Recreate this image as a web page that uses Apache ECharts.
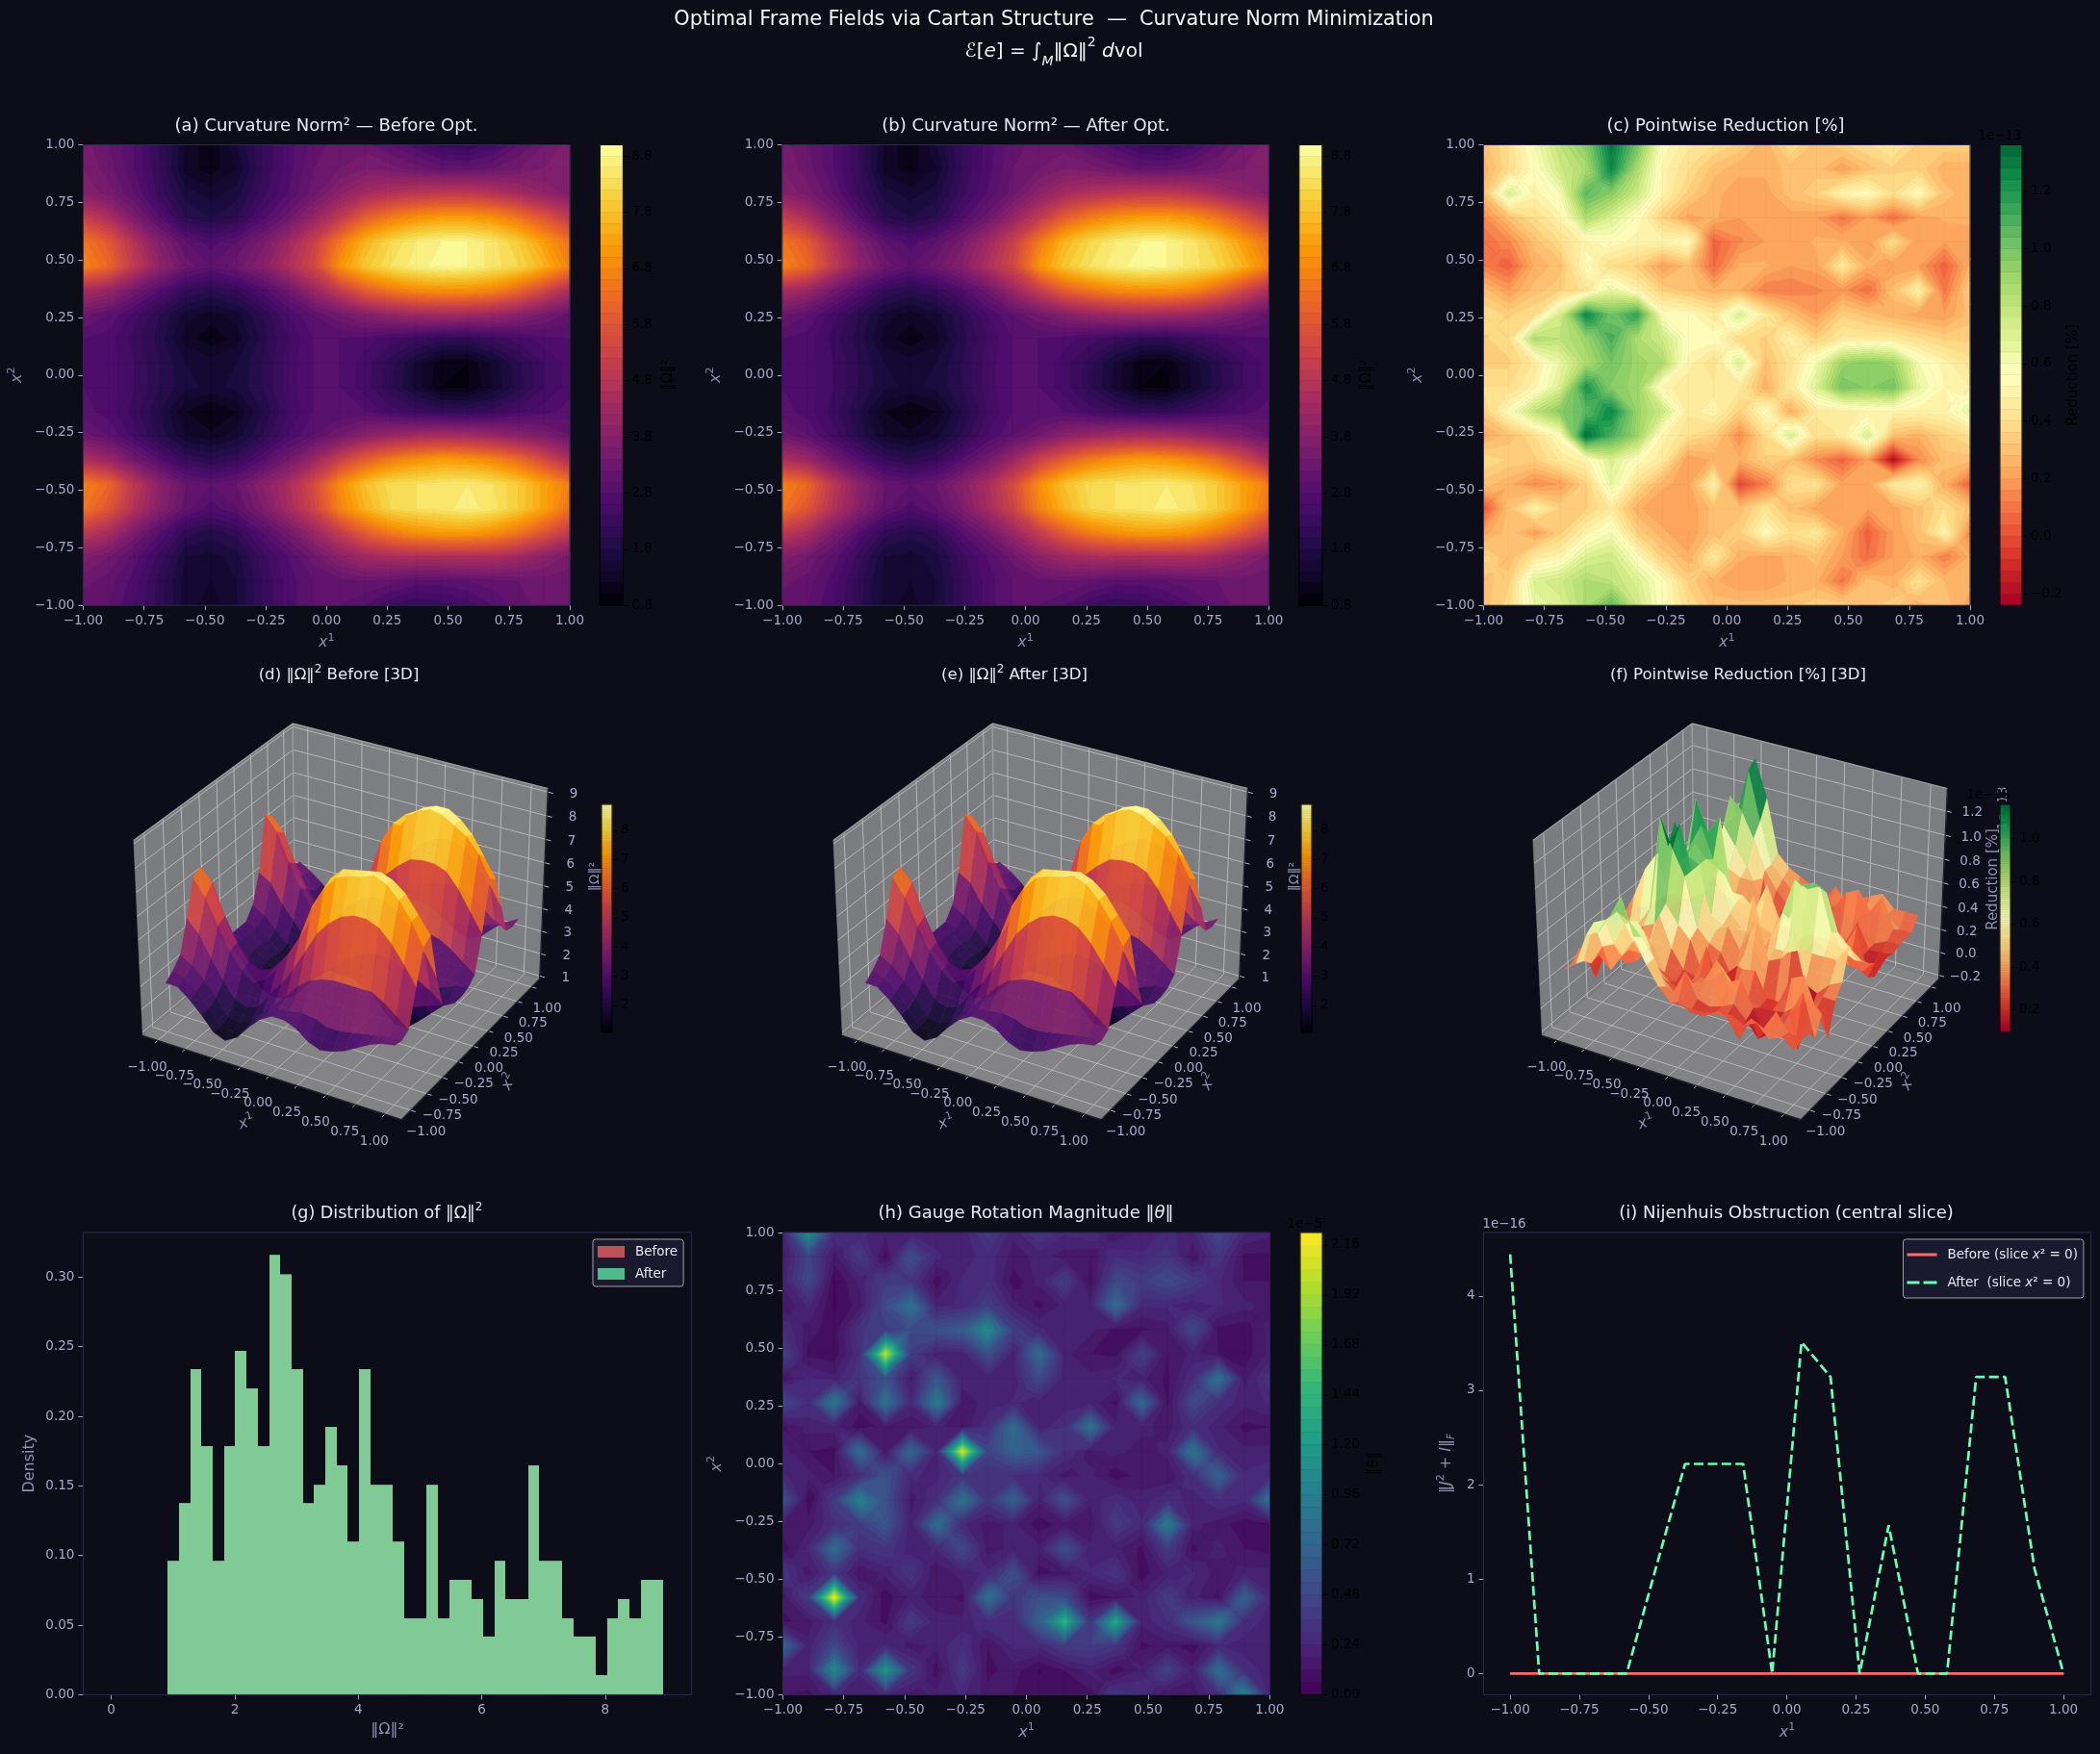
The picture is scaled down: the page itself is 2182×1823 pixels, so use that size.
<!DOCTYPE html>
<html>
<head>
<meta charset="utf-8">
<title>Optimal Frame Fields via Cartan Structure</title>
<script src="https://cdn.jsdelivr.net/npm/echarts@6/dist/echarts.min.js"></script>
<style>html,body{margin:0;padding:0;background:#0d0d1a}#chart{width:2182px;height:1823px}</style>
</head>
<body>
<div id="chart"></div>
<script>
// Sample coordinates shared by every field
const gridX = [-1,-0.895,-0.789,-0.684,-0.579,-0.474,-0.368,-0.263,-0.158,-0.053,0.053,0.158,0.263,0.368,0.474,0.579,0.684,0.789,0.895,1];
const gridY = [1,0.895,0.789,0.684,0.579,0.474,0.368,0.263,0.158,0.053,-0.053,-0.158,-0.263,-0.368,-0.474,-0.579,-0.684,-0.789,-0.895,-1];

// Curvature norm squared, rows run from x2 = 1 down to x2 = -1
const omegaBefore = [
[3.5,3.2,2.8,2.2,1.4,1.0,1.6,2.2,2.7,3.1,3.3,3.3,3.0,2.7,2.3,2.2,2.5,3.0,3.4,3.7],
[3.6,3.3,2.8,2.2,1.3,1.1,1.4,2.2,2.7,3.2,3.4,3.6,3.5,3.3,3.1,3.1,3.2,3.4,3.6,3.6],
[3.8,3.5,3.0,2.3,1.7,1.5,1.7,2.3,2.8,3.3,3.9,4.4,4.7,4.9,5.0,5.0,4.8,4.4,4.0,3.7],
[5.2,4.6,3.6,2.8,2.0,1.8,2.0,2.7,3.3,4.1,5.0,6.0,6.6,7.0,7.2,7.2,7.0,6.5,5.8,5.0],
[6.5,5.9,4.7,3.7,3.0,2.7,3.0,3.5,4.3,5.2,6.5,7.6,8.2,8.6,8.8,8.8,8.5,8.0,7.2,6.4],
[6.8,6.2,5.0,4.0,3.3,3.0,3.3,3.8,4.6,5.4,7.0,7.9,8.4,8.7,8.9,8.8,8.5,8.2,7.6,6.7],
[4.5,4.2,3.4,2.8,2.2,2.0,2.2,2.7,3.3,4.2,5.1,6.0,6.5,6.9,7.0,7.0,6.8,6.2,5.4,4.6],
[3.3,3.0,2.5,2.0,1.5,1.3,1.5,2.0,2.6,3.0,3.4,3.8,4.1,4.3,4.4,4.3,4.2,3.9,3.5,3.1],
[2.8,2.7,2.3,1.9,1.3,1.05,1.3,1.9,2.4,2.8,2.8,2.7,2.5,2.3,2.1,2.1,2.3,2.5,2.7,2.8],
[2.8,2.7,2.4,2.0,1.6,1.5,1.6,2.0,2.5,2.8,2.8,2.5,2.1,1.55,1.05,1.0,1.45,1.95,2.4,2.7],
[2.8,2.7,2.4,2.0,1.65,1.55,1.65,2.0,2.5,2.8,2.8,2.5,2.05,1.5,1.0,0.95,1.4,1.9,2.4,2.7],
[2.9,2.7,2.3,1.8,1.2,0.95,1.2,1.8,2.4,2.8,2.8,2.8,2.5,2.3,2.15,2.1,2.3,2.5,2.7,2.9],
[3.3,3.0,2.5,1.9,1.4,1.25,1.5,2.0,2.6,3.0,3.4,3.9,4.2,4.4,4.5,4.4,4.2,3.9,3.6,3.2],
[4.6,4.2,3.4,2.8,2.2,2.0,2.2,2.8,3.4,4.2,5.2,6.0,6.6,7.0,7.2,7.1,6.8,6.3,5.5,4.6],
[6.7,6.2,4.9,3.9,3.2,3.0,3.2,3.8,4.5,5.5,6.9,7.8,8.3,8.4,8.5,8.6,8.4,8.0,7.3,6.6],
[6.5,5.8,4.7,3.8,3.1,2.7,3.0,3.6,4.4,5.3,6.7,7.6,8.2,8.4,8.5,8.7,8.5,8.0,7.3,6.4],
[5.0,4.5,3.6,2.8,2.1,1.9,2.1,2.8,3.4,4.2,5.1,6.0,6.6,7.0,7.2,7.2,7.0,6.5,5.8,5.0],
[3.7,3.4,2.9,2.3,1.6,1.5,1.7,2.3,2.8,3.3,3.9,4.3,4.5,4.6,4.6,4.6,4.6,4.3,3.9,3.5],
[3.3,3.1,2.7,2.1,1.5,1.4,1.6,2.2,2.7,3.0,3.1,3.2,3.1,2.9,2.9,3.0,3.1,3.2,3.3,3.3],
[3.0,3.0,2.6,2.1,1.5,1.3,1.6,2.2,2.7,3.0,3.0,2.8,2.4,2.2,2.3,2.5,2.8,3.1,3.3,3.4]
];
// The optimiser changes the norm only at the order of 1e-13, invisible at this scale
const omegaAfter = omegaBefore;

// Pointwise reduction, in units of 1e-13 percent
const reduction = [
[0.3,0.4,0.6,0.8,0.95,1.3,1.0,0.55,0.45,0.4,0.35,0.25,0.4,0.3,0.35,0.4,0.45,0.35,0.35,0.35],
[0.25,0.4,0.55,0.75,0.85,1.25,0.85,0.5,0.4,0.3,0.25,0.25,0.3,0.3,0.2,0.3,0.35,0.35,0.25,0.25],
[0.3,0.7,0.5,0.6,1.05,0.95,0.75,0.5,0.35,0.25,0.22,0.22,0.3,0.35,0.5,0.55,0.4,0.55,0.3,0.25],
[0.15,0.3,0.4,0.5,0.85,0.7,0.55,0.35,0.22,0.25,0.2,0.2,0.22,0.2,0.1,0.2,0.08,0.2,0.25,0.25],
[0.08,0.15,0.3,0.4,0.5,0.55,0.5,0.5,0.55,0.05,0.15,0.2,0.2,0.25,0.25,0.2,0.4,0.2,0.2,0.22],
[0.12,0.05,0.25,0.3,0.55,0.4,0.35,0.2,0.3,0.07,0.25,0.25,0.2,0.22,0.45,0.25,0.2,0.2,0.05,0.25],
[0.3,0.2,0.3,0.35,0.42,0.65,0.5,0.35,0.3,0.25,0.25,0.12,0.12,0.15,0.18,0.08,0.3,0.5,0.1,0.35],
[0.4,0.35,0.4,0.72,1.25,1.0,1.15,0.55,0.55,0.45,0.7,0.45,0.3,0.2,0.35,0.3,0.25,0.22,0.2,0.3],
[0.35,0.4,0.85,0.8,0.9,1.1,0.85,0.75,0.55,0.55,0.4,0.35,0.5,0.35,0.45,0.45,0.45,0.4,0.35,0.35],
[0.35,0.35,0.45,0.65,0.85,1.0,0.9,0.85,0.5,0.4,0.7,0.3,0.42,0.6,0.9,0.95,0.9,0.6,0.5,0.42],
[0.4,0.4,0.5,0.7,1.2,0.95,0.9,0.5,0.45,0.45,0.45,0.25,0.45,0.7,1.0,0.95,1.0,0.65,0.52,0.48],
[0.35,0.55,0.8,0.95,1.05,1.25,0.9,0.75,0.45,0.52,0.35,0.55,0.25,0.45,0.45,0.5,0.5,0.5,0.5,0.65],
[0.22,0.3,0.4,0.55,1.33,1.1,0.9,0.5,0.4,0.35,0.15,0.4,0.7,0.4,0.45,0.7,0.3,0.25,0.35,0.4],
[0.4,0.35,0.35,0.45,0.5,0.7,0.55,0.45,0.2,0.25,0.25,0.35,0.3,0.15,0.05,0.2,-0.2,0.15,0.3,0.3],
[0.3,0.25,0.15,0.2,0.35,0.65,0.4,0.25,0.22,0.5,-0.02,0.12,0.4,0.42,0.22,0.22,0.45,0.5,0.25,0.05],
[0.02,0.3,0.5,0.35,0.35,0.45,0.25,0.2,0.2,0.3,0.3,0.42,0.3,0.22,0.2,0.2,0.22,0.3,0.4,0.3],
[0.22,0.3,0.2,0.35,0.5,0.6,0.35,0.25,0.2,0.3,0.35,0.55,0.4,0.45,0.25,0.05,0.2,0.3,0.5,0.15],
[0.38,0.28,0.45,0.5,0.7,0.75,0.55,0.35,0.25,0.45,0.25,0.22,0.25,0.3,0.2,0.08,0.2,0.25,0.12,0.25],
[0.3,0.35,0.7,0.75,0.85,0.8,0.7,0.55,0.35,0.25,0.2,0.2,0.25,0.25,0.1,0.3,0.25,0.42,0.28,0.25],
[0.3,0.38,0.65,0.7,0.85,1.05,0.75,0.55,0.4,0.3,0.3,0.3,0.3,0.35,0.35,0.3,0.35,0.25,0.3,0.22]
];

// Gauge rotation magnitude, in units of 1e-5
const gaugeTheta = [
[0.2,1.15,0.3,0.25,0.2,0.2,0.22,0.2,0.4,0.2,0.38,0.25,0.3,0.12,0.2,0.25,0.22,0.5,0.25,0.2],
[0.15,0.45,0.15,0.4,0.08,0.55,0.25,0.2,0.28,0.15,0.2,0.15,0.12,0.3,0.25,0.35,0.12,0.35,0.1,0.1],
[0.2,0.5,0.05,0.2,0.4,0.35,0.08,0.25,0.3,0.08,0.2,0.42,0.08,0.5,0.4,0.5,0.4,0.25,0.12,0.12],
[0.12,0.25,0.05,0.15,0.5,0.85,0.22,0.25,0.42,0.2,0.1,0.2,0.2,0.8,0.25,0.25,0.2,0.25,0.2,0.15],
[0.3,0.15,0.08,0.35,0.4,0.5,0.55,0.65,1.1,0.42,0.25,0.2,0.2,0.1,0.1,0.15,0.5,0.1,0.08,0.2],
[0.45,0.1,0.08,0.3,2.0,0.4,0.2,0.2,0.55,0.2,0.8,0.2,0.12,0.1,0.45,0.12,0.2,0.12,0.08,0.2],
[0.12,0.25,0.2,0.35,0.55,0.15,0.6,0.2,0.2,0.2,0.5,0.2,0.2,0.25,0.2,0.1,0.3,0.85,0.15,0.35],
[0.5,0.3,0.9,0.15,0.85,0.25,0.95,0.15,0.2,0.25,0.2,0.2,0.22,0.1,0.75,0.1,0.5,0.3,0.2,0.25],
[0.1,0.2,0.2,0.08,0.15,0.12,0.2,0.12,0.3,0.8,0.2,0.3,0.85,0.2,0.2,0.15,0.3,0.2,0.1,0.12],
[0.2,0.12,0.1,0.8,0.15,0.75,0.22,2.1,0.45,0.7,0.6,0.3,0.15,0.2,0.15,0.2,0.9,0.25,0.2,0.2],
[0.25,0.2,0.12,0.3,0.55,0.25,0.22,0.35,0.3,0.3,0.25,0.15,0.2,0.08,0.15,0.12,0.3,0.7,0.25,0.3],
[0.6,0.05,0.4,1.0,0.55,0.15,0.3,0.85,0.35,0.7,0.2,0.55,0.2,0.3,0.2,0.3,0.2,0.3,0.25,0.85],
[0.15,0.15,0.3,0.4,0.6,0.2,0.8,0.25,0.15,0.2,0.08,0.15,0.12,0.4,0.25,0.95,0.2,0.15,0.08,0.1],
[0.08,0.25,0.8,0.3,0.35,0.2,0.25,0.5,0.15,0.2,0.2,0.55,0.2,0.2,0.1,0.4,0.1,0.2,0.12,0.1],
[0.35,0.15,0.35,0.12,0.2,0.35,0.12,0.22,0.25,0.55,0.08,0.15,0.25,0.35,0.08,0.2,0.25,0.15,0.2,0.2],
[0.15,0.4,2.2,0.3,0.08,0.2,0.15,0.1,0.85,0.35,0.55,0.5,0.08,0.12,0.2,0.4,0.2,0.1,0.7,0.25],
[0.1,0.15,0.3,0.2,0.1,0.4,0.2,0.2,0.3,0.25,0.7,1.45,0.35,1.35,0.2,0.3,0.6,0.9,0.3,0.2],
[0.75,0.2,0.5,0.2,0.25,0.15,0.2,0.3,0.12,0.25,0.25,0.4,0.4,0.35,0.1,0.15,0.08,0.25,0.2,0.2],
[0.2,0.2,1.1,0.25,1.2,0.35,0.08,0.4,0.1,0.15,0.05,0.12,0.2,0.08,0.2,0.45,0.2,0.8,0.3,0.2],
[0.12,0.1,0.25,0.2,0.25,0.15,0.2,0.25,0.15,0.12,0.1,0.08,0.1,0.35,0.3,0.12,0.15,0.3,1.0,0.2]
];

// Histogram densities per bin
const histStart = 0.912, histBinWidth = 0.18245;
const histAfter = [0.0962,0.1377,0.2339,0.1785,0.0962,0.1785,0.247,0.22,0.1785,0.316,0.302,0.2339,0.1377,0.1508,0.1924,0.1647,0.11,0.2339,0.1508,0.1508,0.11,0.0549,0.0549,0.1508,0.0549,0.0826,0.0826,0.0687,0.0418,0.0962,0.0687,0.0687,0.1647,0.0962,0.0962,0.0549,0.0418,0.0418,0.0141,0.0549,0.0687,0.0549,0.0826,0.0826];
const histBefore = [0.0962,0.1377,0.2339,0.1785,0.0962,0.1785,0.247,0.22,0.1785,0.316,0.302,0.2339,0.1377,0.1508,0.1924,0.1647,0.11,0.2339,0.1508,0.1508,0.11,0.0549,0.0549,0.1508,0.0549,0.0826,0.0826,0.0687,0.0418,0.0962,0.0687,0.0687,0.1647,0.0962,0.0962,0.0549,0.0418,0.0418,0.0141,0.0549,0.0687,0.0549,0.0826,0.0826];

// Nijenhuis obstruction along x2 = 0, in units of 1e-16
const nijenhuisBefore = [0,0,0,0,0,0,0,0,0,0,0,0,0,0,0,0,0,0,0,0];
const nijenhuisAfter = [4.44,0,0,0,0,1.11,2.22,2.22,2.22,0,3.51,3.14,0,1.57,0,0,3.14,3.14,1.11,0];

// Tick values
const unitTicks = [-1,-0.75,-0.5,-0.25,0,0.25,0.5,0.75,1];
const omegaBarTicks = [0.8,1.8,2.8,3.8,4.8,5.8,6.8,7.8,8.8];
const reductionBarTicks = [-0.2,0,0.2,0.4,0.6,0.8,1.0,1.2];
const thetaBarTicks = [0,0.24,0.48,0.72,0.96,1.2,1.44,1.68,1.92,2.16];
const omegaZTicks = [1,2,3,4,5,6,7,8,9];
const reductionZTicks = [-0.2,0,0.2,0.4,0.6,0.8,1.0,1.2];
const omegaSurfaceBarTicks = [2,3,4,5,6,7,8];
const reductionSurfaceBarTicks = [0.2,0.4,0.6,0.8,1.0];
const histXTicks = [0,2,4,6,8];
const histYTicks = [0,0.05,0.1,0.15,0.2,0.25,0.3];
const sliceYTicks = [0,1,2,3,4];

// Colormap anchors
const inferno = ['#000004','#1b0c41','#4a0c6b','#781c6d','#a52c60','#cf4446','#ed6925','#fb9b06','#f7d13d','#fcffa4'];
const viridis = ['#440154','#482878','#3e4989','#31688e','#26828e','#1f9e89','#35b779','#6ece58','#b5de2b','#fde725'];
const rdYlGn = ['#a50026','#d73027','#f46d43','#fdae61','#fee08b','#ffffbf','#d9ef8b','#a6d96a','#66bd63','#1a9850','#006837'];

const BG = '#0d0d1a', SPINE = '#2a2a4a', TICK = '#a8a8c8', AXISNAME = '#8e8eae', TITLE = '#e8e8f0';
const GREEN = '#69ffb4', RED = '#ff6b6b';
const FONT = 'DejaVu Sans';

function hexRgb(h){return [1,3,5].map(k=>parseInt(h.substr(k,2),16));}
function cmapAt(map,t){
  t=Math.max(0,Math.min(1,t));
  const p=t*(map.length-1), k=Math.min(map.length-2,Math.floor(p)), f=p-k;
  const a=hexRgb(map[k]), b=hexRgb(map[k+1]);
  return 'rgb('+a.map((v,n)=>Math.round(v+(b[n]-v)*f)).join(',')+')';
}
function makeLevels(start,step,count){const l=[];for(let n=0;n<=count;n++)l.push(+(start+n*step).toFixed(6));return l;}
function fmt2(v){return Number(v).toFixed(2).replace('-','\u2212');}
function fmt1(v){return Number(v).toFixed(1).replace('-','\u2212');}
function fmt0(v){return String(Math.round(v)).replace('-','\u2212');}

const opt = {
  backgroundColor: BG, animation:false, textStyle:{fontFamily:FONT},
  title:[], grid:[], xAxis:[], yAxis:[], series:[], graphic:[], legend:[]
};
const nameStyle = {color:AXISNAME,fontSize:16,fontFamily:FONT,rich:{
  i:{color:AXISNAME,fontSize:16,fontStyle:'italic',fontFamily:FONT,lineHeight:22},
  s:{color:AXISNAME,fontSize:16,fontFamily:FONT,lineHeight:22},
  u:{color:AXISNAME,fontSize:11,fontFamily:FONT,lineHeight:22,verticalAlign:'top'},
  f:{color:AXISNAME,fontSize:10,fontStyle:'italic',fontFamily:FONT,lineHeight:22,verticalAlign:'bottom'}
}};
const TICKSIZE = 13.5;

function addAxes(g,o){
  opt.xAxis.push({type:'value',gridIndex:g,min:o.xmin,max:o.xmax,splitLine:{show:false},axisLine:{show:false,onZero:false},
    axisTick:{show:true,length:5,lineStyle:{color:TICK,width:1},customValues:o.xticks},
    axisLabel:{color:TICK,fontSize:TICKSIZE,margin:9,customValues:o.xticks,formatter:o.xfmt,fontFamily:FONT},
    name:o.xname,nameLocation:'middle',nameGap:o.xgap||28,nameTextStyle:nameStyle});
  opt.yAxis.push({type:'value',gridIndex:g,min:o.ymin,max:o.ymax,splitLine:{show:false},axisLine:{show:false,onZero:false},
    axisTick:{show:true,length:5,lineStyle:{color:TICK,width:1},customValues:o.yticks},
    axisLabel:{color:TICK,fontSize:TICKSIZE,margin:9,customValues:o.yticks,formatter:o.yfmt,fontFamily:FONT},
    name:o.yname,nameLocation:'middle',nameGap:o.ygap||58,nameTextStyle:nameStyle});
}
function addGrid(l,t,w,h){opt.grid.push({left:l,top:t,width:w,height:h,containLabel:false});return opt.grid.length-1;}
function addFrame(g,x0,x1,y0,y1,color,width){
  opt.series.push({type:'custom',xAxisIndex:g,yAxisIndex:g,z:6,silent:true,clip:false,data:[[x0,y0]],
    renderItem:(p,api)=>{
      const a=api.coord([x0,y0]),b=api.coord([x1,y1]);
      return {type:'rect',shape:{x:a[0],y:b[1],width:b[0]-a[0],height:a[1]-b[1]},style:{fill:'none',stroke:color,lineWidth:width}};
    }});
}
function clipBy(poly,fn){
  const out=[];
  for(let k=0;k<poly.length;k++){
    const a=poly[k],b=poly[(k+1)%poly.length],da=fn(a),db=fn(b);
    if(da>=0)out.push(a);
    if((da<0&&db>0)||(da>0&&db<0)){
      const s=da/(da-db);
      out.push([a[0]+(b[0]-a[0])*s,a[1]+(b[1]-a[1])*s,a[2]+(b[2]-a[2])*s]);
    }
  }
  return out;
}
// Filled contours by marching squares: crossings on the cell edges are joined straight.
// A cell whose corners form a saddle across some level is split around its mean instead.
function addContour(g,table,levels,cmap){
  const vmin=levels[0],vmax=levels[levels.length-1];
  const colors=[];for(let n=0;n<levels.length-1;n++)colors.push(cmapAt(cmap,((levels[n]+levels[n+1])/2-vmin)/(vmax-vmin)));
  const cells=[];
  for(let j=0;j<gridY.length-1;j++)for(let i=0;i<gridX.length-1;i++)cells.push([gridX[i],gridY[j],i,j]);
  opt.series.push({type:'custom',xAxisIndex:g,yAxisIndex:g,z:2,silent:true,clip:true,data:cells,encode:{x:0,y:1},
    renderItem:(p,api)=>{
      const i=api.value(2),j=api.value(3);
      const A=[gridX[i],gridY[j],table[j][i]],B=[gridX[i+1],gridY[j],table[j][i+1]],
            C=[gridX[i+1],gridY[j+1],table[j+1][i+1]],D=[gridX[i],gridY[j+1],table[j+1][i]];
      const M=[(A[0]+B[0])/2,(A[1]+D[1])/2,(A[2]+B[2]+C[2]+D[2])/4];
      const lo=Math.min(A[2],B[2],C[2],D[2]),hi=Math.max(A[2],B[2],C[2],D[2]);
      const gapLo=Math.max(Math.min(A[2],C[2]),Math.min(B[2],D[2]));
      const gapHi=Math.min(Math.max(A[2],C[2]),Math.max(B[2],D[2]));
      const alternates=Math.min(A[2],C[2])>Math.max(B[2],D[2])||Math.min(B[2],D[2])>Math.max(A[2],C[2]);
      const saddle=alternates&&levels.some(L=>L>Math.min(gapLo,gapHi)&&L<=Math.max(gapLo,gapHi));
      const parts=saddle?[[A,B,M],[B,C,M],[C,D,M],[D,A,M]]:[[A,B,C,D]];
      const children=[];
      for(let n=0;n<colors.length;n++){
        const L0=levels[n],L1=levels[n+1];
        if(L1<lo||L0>hi)continue;
        parts.forEach(base=>{
          let poly=clipBy(base,v=>v[2]-L0);
          if(poly.length>=3)poly=clipBy(poly,v=>L1-v[2]);
          if(poly.length<3)return;
          children.push({type:'polygon',shape:{points:poly.map(v=>api.coord([v[0],v[1]]))},
            style:{fill:colors[n],stroke:colors[n],lineWidth:0.8}});
        });
      }
      return {type:'group',children};
    }});
}
// Vertical colour bar on its own grid
function addBar(l,t,w,h,vmin,vmax,bands,cmap,ticks,fmt,opacity,name,gap){
  const g=addGrid(l,t,w,h);
  opt.xAxis.push({type:'value',gridIndex:g,min:0,max:1,show:false});
  opt.yAxis.push({type:'value',gridIndex:g,position:'right',min:vmin,max:vmax,splitLine:{show:false},axisLine:{show:false,onZero:false},
    axisTick:{show:true,length:5,lineStyle:{color:'#000'},customValues:ticks},
    axisLabel:{color:'#000',fontSize:TICKSIZE,margin:9,customValues:ticks,formatter:fmt,fontFamily:FONT},
    name:name||'',nameLocation:'middle',nameRotate:90,nameGap:gap||0,nameTextStyle:{color:'#000',fontSize:15,fontFamily:FONT}});
  const range=bands.map((b,n)=>[b[0],b[1],n]);
  opt.series.push({type:'custom',xAxisIndex:g,yAxisIndex:g,z:3,silent:true,clip:false,data:range,encode:{y:0},
    renderItem:(p,api)=>{
      const lo=api.value(0),hi=api.value(1);
      const a=api.coord([0,lo]),b=api.coord([1,hi]);
      const c=cmapAt(cmap,((lo+hi)/2-vmin)/(vmax-vmin));
      return {type:'rect',shape:{x:a[0],y:b[1],width:b[0]-a[0],height:a[1]-b[1]},style:{fill:c,stroke:c,lineWidth:0.5,opacity:opacity}};
    }});
  addFrame(g,0,1,vmin,vmax,'#000',1);
}
function barsFromLevels(levels){const o=[];for(let n=0;n<levels.length-1;n++)o.push([levels[n],levels[n+1]]);return o;}
function smoothBands(vmin,vmax,count){return barsFromLevels(makeLevels(vmin,(vmax-vmin)/count,count));}

// 3D view: elevation 30, azimuth -60, camera distance 10
const EL=30*Math.PI/180, AZ=-60*Math.PI/180, BOX=[1.143,1.143,0.857];
const VR=[-Math.sin(AZ),Math.cos(AZ),0];
const VU=[-Math.sin(EL)*Math.cos(AZ),-Math.sin(EL)*Math.sin(AZ),Math.cos(EL)];
const VN=[Math.cos(EL)*Math.cos(AZ),Math.cos(EL)*Math.sin(AZ),Math.sin(EL)];
function proj(u,v,w){
  const d=[(u-0.5)*BOX[0],(v-0.5)*BOX[1],(w-0.5)*BOX[2]];
  const dot=(a)=>a[0]*d[0]+a[1]*d[1]+a[2]*d[2];
  const depth=dot(VN), f=10/(10-depth);
  return [dot(VR)*f,dot(VU)*f,depth];
}
const LIM3D=1.14;
function uOf(x){return (x+LIM3D)/(2*LIM3D);}

function addSurface(dx,table,zmin,zmax,zticks,zfmt,cmap,vmin,vmax){
  const g=addGrid(128.8+dx,719.1,458.5,458.5);
  opt.xAxis.push({type:'value',gridIndex:g,min:-0.85,max:0.85,show:false});
  opt.yAxis.push({type:'value',gridIndex:g,min:-0.85,max:0.85,show:false});
  const wOf=z=>(z-zmin)/(zmax-zmin);
  // panes, grid lines, ticks and tick labels
  opt.series.push({type:'custom',xAxisIndex:g,yAxisIndex:g,z:1,silent:true,clip:false,data:[[0,0]],
    renderItem:(p,api)=>{
      const P=(u,v,w)=>{const s=proj(u,v,w);return api.coord([s[0],s[1]]);};
      const kids=[];
      const poly=(pts,fill)=>kids.push({type:'polygon',shape:{points:pts},style:{fill:fill,stroke:fill,lineWidth:0.5}});
      const line=(a,b,c,w)=>kids.push({type:'line',shape:{x1:a[0],y1:a[1],x2:b[0],y2:b[1]},style:{stroke:c,lineWidth:w}});
      const text=(s,q)=>kids.push({type:'text',x:q[0],y:q[1],style:{text:s,fill:TICK,font:TICKSIZE+'px "'+FONT+'"',align:'center',verticalAlign:'middle'}});
      poly([P(0,0,0),P(0,1,0),P(0,1,1),P(0,0,1)],'#7b7c80');
      poly([P(0,1,0),P(1,1,0),P(1,1,1),P(0,1,1)],'#7d7e82');
      poly([P(0,0,0),P(1,0,0),P(1,1,0),P(0,1,0)],'#838385');
      const GL='#b6b6b8';
      unitTicks.forEach(x=>{
        const u=uOf(x);
        line(P(u,0,0),P(u,1,0),GL,1); line(P(u,1,0),P(u,1,1),GL,1);
        line(P(0,u,0),P(1,u,0),GL,1); line(P(0,u,0),P(0,u,1),GL,1);
        line(P(u,0,0),P(u,-0.018,0),GL,1);
        const a=P(u,0,0); text(fmt2(x),[a[0]-11,a[1]+28]);
        line(P(1,u,0),P(1.018,u,0),GL,1);
        const b=P(1,u,0); text(fmt2(x),[b[0]+16,b[1]+23]);
      });
      zticks.forEach(z=>{
        const w=wOf(z);
        line(P(0,0,w),P(0,1,w),GL,1); line(P(0,1,w),P(1,1,w),GL,1);
        line(P(1,1,w),P(1.02,1,w),GL,1);
        const q=P(1,1,w); text(zfmt(z),[q[0]+27,q[1]+2]);
      });
      // pane borders
      line(P(0,0,1),P(0,1,1),'#9b9b9e',1.5); line(P(0,1,1),P(1,1,1),'#9b9b9e',1.5); line(P(0,1,0),P(0,1,1),'#9b9b9e',1.5);
      line(P(0,0,0),P(1,0,0),'#20202c',1.2); line(P(1,0,0),P(1,1,0),'#20202c',1.2); line(P(1,1,0),P(1,1,1),'#20202c',1.2);
      const nameRich={i:{fill:AXISNAME,font:'italic 16px "'+FONT+'"',lineHeight:22},u:{fill:AXISNAME,font:'11px "'+FONT+'"',lineHeight:22,verticalAlign:'top'}};
      const n1=P(0.5,0,0), n2=P(1,0.5,0);
      kids.push({type:'text',x:n1[0]-23,y:n1[1]+48,rotation:0.33,style:{text:'{i|x}{u|1}',rich:nameRich,align:'center',verticalAlign:'middle'}});
      kids.push({type:'text',x:n2[0]+37,y:n2[1]+37,rotation:1.1,style:{text:'{i|x}{u|2}',rich:nameRich,align:'center',verticalAlign:'middle'}});
      return {type:'group',children:kids};
    }});
  // surface faces, painted from far to near
  const faces=[];
  for(let j=0;j<gridY.length-1;j++)for(let i=0;i<gridX.length-1;i++){
    const z=(table[j][i]+table[j][i+1]+table[j+1][i]+table[j+1][i+1])/4;
    const s=proj((uOf(gridX[i])+uOf(gridX[i+1]))/2,(uOf(gridY[j])+uOf(gridY[j+1]))/2,wOf(z));
    faces.push([s[2],i,j,z]);
  }
  faces.sort((a,b)=>a[0]-b[0]);
  opt.series.push({type:'custom',xAxisIndex:g,yAxisIndex:g,z:2,silent:true,clip:false,data:faces,encode:{x:0},
    renderItem:(p,api)=>{
      const i=api.value(1),j=api.value(2),z=api.value(3);
      const pts=[[i,j],[i+1,j],[i+1,j+1],[i,j+1]].map(c=>{
        const s=proj(uOf(gridX[c[0]]),uOf(gridY[c[1]]),wOf(table[c[1]][c[0]]));
        return api.coord([s[0],s[1]]);
      });
      const c=cmapAt(cmap,(z-vmin)/(vmax-vmin));
      return {type:'polygon',shape:{points:pts},style:{fill:c,stroke:c,lineWidth:0.3,opacity:0.92}};
    }});
}
function plainText(s,x,y,o){
  opt.graphic.push(Object.assign({type:'text',x:x,y:y,silent:true,style:Object.assign({text:s,fill:TICK,font:TICKSIZE+'px "'+FONT+'"',align:'center',verticalAlign:'middle'},o&&o.style||{})},o&&o.el||{}));
}
function panelTitle(text,x,y,size){
  const fs=size||18;
  opt.title.push({text:text,left:x,top:y-11,padding:0,textAlign:'center',textStyle:{color:TITLE,fontSize:fs,fontWeight:'normal',fontFamily:FONT,lineHeight:24,
    rich:{t:{color:TITLE,fontSize:fs,fontFamily:FONT,lineHeight:24},i:{color:TITLE,fontSize:fs,fontStyle:'italic',fontFamily:FONT,lineHeight:24},
      u:{color:TITLE,fontSize:12,fontFamily:FONT,lineHeight:24,verticalAlign:'top'}}}});
}

/* ---- first row: contour panels ---- */
const omegaLevels=makeLevels(0.8,0.2,41), reductionLevels=makeLevels(-0.24,0.04,40), thetaLevels=makeLevels(0,0.06,37);
const heatOpts={xmin:-1,xmax:1,ymin:-1,ymax:1,xticks:unitTicks,yticks:unitTicks,xfmt:fmt2,yfmt:fmt2,
  xname:'{i|x}{u|1}',yname:'{i|x}{u|2}'};
[[86.4,omegaBefore],[812.8,omegaAfter]].forEach(c=>{
  const g=addGrid(c[0],150.5,505.6,478.7);
  addAxes(g,heatOpts);
  addContour(g,c[1],omegaLevels,inferno);
  addFrame(g,-1,1,-1,1,SPINE,1);
  addBar(c[0]+537,150.5,24,478.7,0.8,9,barsFromLevels(omegaLevels),inferno,omegaBarTicks,fmt1,1,'\u2016\u03a9\u2016\u00b2',39);
});
{
  const g=addGrid(1541.4,150.5,505.6,478.7);
  addAxes(g,heatOpts);
  addContour(g,reduction,reductionLevels,rdYlGn);
  addFrame(g,-1,1,-1,1,SPINE,1);
  addBar(2078,150.5,23,478.7,-0.24,1.36,barsFromLevels(reductionLevels),rdYlGn,reductionBarTicks,fmt1,1,'Reduction [%]',43);
}
plainText('1e\u221213',2078,141,{style:{fill:'#000'}});

/* ---- second row: surfaces ---- */
addSurface(0,omegaBefore,0.86,9.14,omegaZTicks,fmt0,inferno,1.07,8.89);
addBar(625,836,11,237,1.07,8.89,smoothBands(1.07,8.89,128),inferno,omegaSurfaceBarTicks,fmt0,0.9);
addSurface(727,omegaAfter,0.86,9.14,omegaZTicks,fmt0,inferno,1.07,8.89);
addBar(1352,836,11,237,1.07,8.89,smoothBands(1.07,8.89,128),inferno,omegaSurfaceBarTicks,fmt0,0.9);
addSurface(1454,reduction,-0.233,1.384,reductionZTicks,fmt1,rdYlGn,0.095,1.16);
addBar(2078,836,11,237,0.095,1.16,smoothBands(0.095,1.16,128),rdYlGn,reductionSurfaceBarTicks,fmt1,0.9);
[618,1345].forEach(x=>plainText('\u2016\u03a9\u2016\u00b2',x,911,{el:{rotation:Math.PI/2},style:{fill:AXISNAME,font:'14px "'+FONT+'"'}}));
plainText('Reduction [%]',2071,914,{el:{rotation:Math.PI/2},style:{fill:AXISNAME,font:'15px "'+FONT+'"'}});
plainText('1e\u221213',2081,840,{el:{rotation:Math.PI/2},style:{fill:AXISNAME}});
plainText('1e\u221213',2066,826,{style:{fill:'#000'}});

/* ---- third row ---- */
// (g) histogram
{
  const g=addGrid(86.4,1281,632.3,480.4);
  addAxes(g,{xmin:-0.456,xmax:9.40,ymin:0,ymax:0.332,xticks:histXTicks,yticks:histYTicks,xfmt:fmt0,yfmt:fmt2,
    xname:'\u2016\u03a9\u2016\u00b2',yname:'Density',ygap:48,xgap:28});
  const bars=(name,values,color)=>opt.series.push({type:'custom',name:name,xAxisIndex:g,yAxisIndex:g,z:2,silent:true,
    itemStyle:{color:color,opacity:0.7},
    data:values.map((v,n)=>[histStart+n*histBinWidth,histStart+(n+1)*histBinWidth,v]),encode:{x:[0,1],y:2},
    renderItem:(p,api)=>{
      const a=api.coord([api.value(0),0]),b=api.coord([api.value(1),api.value(2)]);
      const x0=Math.round(a[0]),x1=Math.round(b[0]);
      return {type:'rect',shape:{x:x0,y:b[1],width:x1-x0,height:a[1]-b[1]},style:{fill:color,opacity:0.7}};
    }});
  bars('Before',histBefore,RED);
  bars('After',histAfter,GREEN);
  addFrame(g,-0.456,9.40,0,0.332,SPINE,1);
  opt.legend.push({left:616,top:1288,orient:'vertical',padding:[6,6,6,5],itemGap:9,itemWidth:28,itemHeight:12,
    backgroundColor:'#1a1a2e',borderColor:'#a0a0a8',borderWidth:1,borderRadius:3,
    textStyle:{color:'#e8e8f0',fontSize:13.5,fontFamily:FONT,padding:[0,0,0,6]},selectedMode:false,
    data:[{name:'Before',icon:'rect',itemStyle:{color:RED,opacity:0.7}},{name:'After',icon:'rect',itemStyle:{color:GREEN,opacity:0.7}}]});
}
// (h) gauge rotation
{
  const g=addGrid(813.5,1281,505.9,480.4);
  addAxes(g,heatOpts);
  addContour(g,gaugeTheta,thetaLevels,viridis);
  addFrame(g,-1,1,-1,1,SPINE,1);
  addBar(1351,1281,23,480.4,0,2.22,barsFromLevels(thetaLevels),viridis,thetaBarTicks,fmt2,1,'\u2016\u03b8\u2016',47);
}
plainText('1e\u22125',1356,1272,{style:{fill:'#000'}});
// (i) central slice
{
  const g=addGrid(1541.5,1281,631.1,480.4);
  addAxes(g,{xmin:-1.096,xmax:1.099,ymin:-0.2235,ymax:4.67,xticks:unitTicks,yticks:sliceYTicks,xfmt:fmt2,yfmt:fmt0,
    xname:'{i|x}{u|1}',yname:'{s|\u2016}{i|J}{u|2}{s| + }{i|I}{s|\u2016}{f|F}',ygap:28});
  const beforeName='Before (slice x\u00b2 = 0)', afterName='After  (slice x\u00b2 = 0)';
  opt.series.push({type:'line',name:beforeName,xAxisIndex:g,yAxisIndex:g,z:2,silent:true,showSymbol:false,symbol:'none',
    data:gridX.map((x,n)=>[x,nijenhuisBefore[n]]),lineStyle:{color:RED,width:2.7},itemStyle:{color:RED}});
  opt.series.push({type:'line',name:afterName,xAxisIndex:g,yAxisIndex:g,z:3,silent:true,showSymbol:false,symbol:'none',
    data:gridX.map((x,n)=>[x,nijenhuisAfter[n]]),lineStyle:{color:GREEN,width:2.7,type:[10,4.4]},itemStyle:{color:GREEN}});
  addFrame(g,-1.096,1.099,-0.2235,4.67,SPINE,1);
  opt.legend.push({left:1977.5,top:1288,orient:'vertical',padding:[9,6,9,4],itemGap:15,itemWidth:31,itemHeight:3,
    backgroundColor:'#1a1a2e',borderColor:'#a0a0a8',borderWidth:1,borderRadius:3,selectedMode:false,
    textStyle:{color:'#e8e8f0',fontSize:13.5,fontFamily:FONT,padding:[0,0,0,6],rich:{i:{color:'#e8e8f0',fontSize:13.5,fontStyle:'italic',fontFamily:FONT},n:{color:'#e8e8f0',fontSize:13.5,fontFamily:FONT}}},
    formatter:n=>n.replace('x\u00b2','{i|x}{n|\u00b2}').replace(/^(.*?)\{i/,'{n|$1}{i').replace(/\u00b2\}(.*)$/,'\u00b2}{n|$1}'),
    data:[{name:beforeName,icon:'rect',itemStyle:{color:RED}},
          {name:afterName,icon:'path://M0,0H13V3H0Z M17,0H31V3H17Z',itemStyle:{color:GREEN}}]});
}
plainText('1e\u221216',1563,1272,{style:{fill:TICK}});

/* ---- titles ---- */
plainText('Optimal Frame Fields via Cartan Structure  \u2014  Curvature Norm Minimization',1095,21,{style:{fill:'#f4f4f8',font:'20.8px "'+FONT+'"'}});
plainText('{c|\u2130}{n|[}{it|e}{n|] = \u222b}{sub|M}{n|\u2016\u03a9\u2016}{sup|2}{it| d}{n|vol}',1095,54,{style:{rich:{
  n:{fill:'#f4f4f8',font:'20px "'+FONT+'"',lineHeight:34},
  it:{fill:'#f4f4f8',font:'italic 20px "'+FONT+'"',lineHeight:34},
  c:{fill:'#f4f4f8',font:'italic 20px "'+FONT+'"',lineHeight:34},
  sub:{fill:'#f4f4f8',font:'italic 14px "'+FONT+'"',lineHeight:34,verticalAlign:'bottom'},
  sup:{fill:'#f4f4f8',font:'14px "'+FONT+'"',lineHeight:34,verticalAlign:'top'}
}}});
panelTitle('(a) Curvature Norm\u00b2 \u2014 Before Opt.',339,130);
panelTitle('(b) Curvature Norm\u00b2 \u2014 After Opt.',1066,130);
panelTitle('(c) Pointwise Reduction [%]',1793,130);
panelTitle('{t|(d) \u2016\u03a9\u2016}{u|2}{t| Before [3D]}',352,701,16.6);
panelTitle('{t|(e) \u2016\u03a9\u2016}{u|2}{t| After [3D]}',1054,701,16.6);
panelTitle('(f) Pointwise Reduction [%] [3D]',1806,701,16.6);
panelTitle('{t|(g) Distribution of \u2016\u03a9\u2016}{u|2}',402,1260,17.5);
panelTitle('{t|(h) Gauge Rotation Magnitude \u2016}{i|\u03b8}{t|\u2016}',1066,1260);
panelTitle('(i) Nijenhuis Obstruction (central slice)',1856,1260);

const chart=echarts.init(document.getElementById('chart'),null,{renderer:'canvas',width:2182,height:1823});
chart.setOption(opt);
</script>
</body>
</html>
